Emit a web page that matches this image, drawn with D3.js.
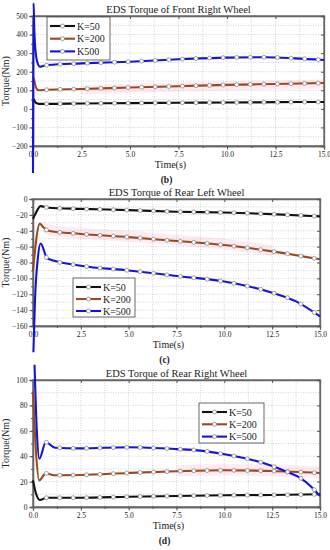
<!DOCTYPE html>
<html>
<head>
<meta charset="utf-8">
<script src="https://cdn.jsdelivr.net/npm/d3@7/dist/d3.min.js"></script>
<style>
body{margin:0;background:#fff}
svg{display:block}
text{font-family:"Liberation Serif","Times New Roman",serif;fill:#222}
</style>
</head>
<body>
<script>
// ---- data ----
var timeTicks = [0, 2.5, 5, 7.5, 10, 12.5, 15];
var seriesNames = ["K=50", "K=200", "K500"];
var seriesNamesRear = ["K=50", "K=200", "K=500"];

// (b) front right wheel
var frontT50  = [0, 0.05, 0.15, 0.3, 0.75, 2.5, 5, 7.5, 10, 12.5, 15];
var frontK50  = [55, 50, 32, 27, 27, 29, 31, 33, 34, 36, 37];
var frontT200 = [0, 0.05, 0.15, 0.3, 0.75, 2.5, 5, 7.5, 10, 12.5, 15];
var frontK200 = [170, 160, 115, 100, 103, 107, 115, 122, 129, 134, 139];
var frontT500 = [0, 0.03, 0.07, 0.2, 0.36, 0.55, 0.77, 2.5, 5, 7.5, 10, 12, 13.5, 15];
var frontK500 = [-345, 570, 415, 260, 227, 232, 236, 245, 254, 267, 276, 278, 272, 263];
var frontTicks = [-200, -100, 0, 100, 200, 300, 400, 500];

// (c) rear left wheel
var rearLT50  = [0, 0.1, 0.4, 0.8, 2.5, 5, 7.5, 10, 12.5, 15];
var rearLK50  = [-25, -20, -9, -11, -12.5, -14, -16, -17, -19, -22];
var rearLT200 = [0, 0.36, 0.55, 0.8, 2.5, 5, 7.5, 10, 12.5, 15];
var rearLK200 = [-90, -31, -36, -40, -44, -48, -53, -58, -66, -76];
var rearLT500 = [0.02, 0.1, 0.25, 0.4, 0.75, 2.5, 5, 7.5, 10, 11.25, 12.5, 13.75, 15];
var rearLK500 = [-193, -130, -75, -56, -75, -84, -90, -97, -104, -110, -118, -129, -148];
var rearLTicks = [-160, -140, -120, -100, -80, -60, -40, -20, 0];

// (d) rear right wheel
var rearRT50  = [0, 0.15, 0.36, 0.7, 2.5, 5, 7.5, 10, 12.5, 15];
var rearRK50  = [21, 11, 5.5, 7.3, 7.3, 8.1, 8.7, 9.2, 9.5, 10];
var rearRT200 = [0, 0.15, 0.32, 0.67, 1.1, 2.5, 5, 7.5, 10, 12.5, 15];
var rearRK200 = [91, 45, 21, 26.5, 25, 25.2, 26.8, 28.1, 28.9, 28.3, 26.8];
var rearRT500 = [0.08, 0.2, 0.33, 0.67, 1.15, 2.5, 5, 7.5, 8.75, 10, 11.25, 12.5, 13.25, 14, 14.5, 15];
var rearRK500 = [112, 60, 38, 51, 46.7, 46.2, 47, 45.6, 44.4, 41.5, 37.8, 32.3, 27.8, 22.6, 16.6, 8.7];
var rearRTicks = [0, 20, 40, 60, 80, 100];

var colors = ["#111111", "#9a4a1c", "#1414d8"];

function zip(t, v) { return t.map(function(d, i) { return {t: d, v: v[i]}; }); }

var svg = d3.select("body").append("svg").attr("width", 330).attr("height", 550);

function panel(cfg) {
  var g = svg.append("g");
  var x = d3.scaleLinear().domain([0, 15]).range([cfg.left, cfg.right]);
  var y = d3.scaleLinear().domain([cfg.ticks[0], cfg.ticks[cfg.ticks.length - 1]]).range([cfg.bottom, cfg.top]);
  var step = cfg.ticks[1] - cfg.ticks[0];
  var yMinor = d3.range(cfg.ticks[0], cfg.ticks[cfg.ticks.length - 1] + 0.01, step / 2);
  var xMinor = d3.range(0, 15.01, 1.25);

  // grid
  g.append("g").selectAll("line").data(xMinor).enter().append("line")
    .attr("x1", function(d) { return x(d); }).attr("x2", function(d) { return x(d); })
    .attr("y1", cfg.top).attr("y2", cfg.bottom)
    .attr("stroke", "#c8c8c8").attr("stroke-width", 0.8).attr("stroke-dasharray", "1,1.5");
  g.append("g").selectAll("line").data(yMinor).enter().append("line")
    .attr("x1", cfg.left).attr("x2", cfg.right)
    .attr("y1", function(d) { return y(d); }).attr("y2", function(d) { return y(d); })
    .attr("stroke", "#c8c8c8").attr("stroke-width", 0.8).attr("stroke-dasharray", "1,1.5");

  // pinkish smear around the K=200 curve (present in the scan)
  var band = zip(cfg.series[1].t, cfg.series[1].v).filter(function(d) { return d.t >= cfg.band[0] && d.t <= cfg.band[1]; });
  g.append("path").datum(band)
    .attr("fill", "#ff9fc0").attr("opacity", 0.2)
    .attr("d", d3.area().curve(d3.curveMonotoneX)
      .x(function(d) { return x(d.t); })
      .y0(function(d) { return y(d.v - cfg.band[2]); })
      .y1(function(d) { return y(d.v + cfg.band[3]); }));

  // frame and axes
  g.append("rect").attr("x", cfg.left).attr("y", cfg.top)
    .attr("width", cfg.right - cfg.left).attr("height", cfg.bottom - cfg.top)
    .attr("fill", "none").attr("stroke", "#666").attr("stroke-width", 1.3);

  g.append("g").attr("transform", "translate(0," + cfg.bottom + ")")
    .call(d3.axisBottom(x).tickValues(timeTicks).tickFormat(d3.format(".1f")).tickSize(3.5).tickPadding(2));
  g.append("g").attr("transform", "translate(0," + cfg.bottom + ")")
    .call(d3.axisBottom(x).tickValues(xMinor).tickFormat("").tickSize(2));
  g.append("g").attr("transform", "translate(0," + cfg.top + ")")
    .call(d3.axisBottom(x).tickValues(timeTicks).tickFormat("").tickSize(3));
  g.append("g").attr("transform", "translate(" + cfg.left + ",0)")
    .call(d3.axisLeft(y).tickValues(cfg.ticks).tickSize(3.5).tickPadding(2));
  g.append("g").attr("transform", "translate(" + cfg.left + ",0)")
    .call(d3.axisLeft(y).tickValues(yMinor).tickFormat("").tickSize(2));
  g.append("g").attr("transform", "translate(" + cfg.right + ",0)")
    .call(d3.axisLeft(y).tickValues(cfg.ticks).tickFormat("").tickSize(3));
  g.selectAll(".domain").attr("stroke", "#666").attr("stroke-width", 1.3);
  g.selectAll(".tick line").attr("stroke", "#555");
  g.selectAll(".tick text").attr("font-family", "Liberation Serif").attr("font-size", 7.5).attr("fill", "#333");

  // lines
  var line = d3.line().curve(d3.curveMonotoneX)
    .x(function(d) { return x(d.t); }).y(function(d) { return y(d.v); });
  cfg.series.forEach(function(s, i) {
    var p = g.append("path").datum(zip(s.t, s.v))
      .attr("fill", "none").attr("stroke", colors[i]).attr("stroke-width", 2.1)
      .attr("d", line);
    // markers every 0.7 s, located on the drawn curve
    var node = p.node(), len = node.getTotalLength();
    var marks = d3.range(1, 22).map(function(k) { return k * 0.7; });
    marks.forEach(function(mt) {
      var tx = x(mt), lo = 0, hi = len;
      for (var n = 0; n < 30; n++) {
        var mid = (lo + hi) / 2;
        if (node.getPointAtLength(mid).x < tx) lo = mid; else hi = mid;
      }
      var pt = node.getPointAtLength(lo);
      g.append("circle").attr("cx", pt.x).attr("cy", pt.y).attr("r", 2)
        .attr("fill", "#fff").attr("stroke", "#8a8a8a").attr("stroke-width", 0.8);
    });
  });

  // labels
  g.append("text").attr("x", (cfg.left + cfg.right) / 2).attr("y", cfg.top - 3)
    .attr("text-anchor", "middle").attr("font-size", 10.5).text(cfg.title);
  g.append("text").attr("x", (cfg.left + cfg.right) / 2 - 8).attr("y", cfg.bottom + 22)
    .attr("text-anchor", "middle").attr("font-size", 10).text("Time(s)");
  g.append("text").attr("transform", "translate(9," + (cfg.top + cfg.bottom) / 2 + ") rotate(-90)")
    .attr("text-anchor", "middle").attr("font-size", 10).text("Torque(Nm)");
  g.append("text").attr("x", (cfg.left + cfg.right) / 2 - 12).attr("y", cfg.bottom + 37)
    .attr("text-anchor", "middle").attr("font-size", 9.5).attr("font-weight", "bold").text(cfg.tag);

  // legend
  var L = cfg.legend;
  g.append("rect").attr("x", L.x).attr("y", L.y).attr("width", L.w).attr("height", L.h)
    .attr("fill", "#fff").attr("stroke", "#444").attr("stroke-width", 0.8);
  cfg.names.forEach(function(nm, i) {
    var yy = L.y + 9 + i * L.dy;
    g.append("line").attr("x1", L.x + 3).attr("x2", L.x + 28).attr("y1", yy).attr("y2", yy)
      .attr("stroke", colors[i]).attr("stroke-width", 2.1);
    g.append("circle").attr("cx", L.x + 15.5).attr("cy", yy).attr("r", 2)
      .attr("fill", "#fff").attr("stroke", "#8a8a8a").attr("stroke-width", 0.8);
    g.append("text").attr("x", L.x + 30).attr("y", yy + 3.5).attr("font-size", 10).text(nm);
  });
}

panel({
  title: "EDS Torque of Front Right Wheel", tag: "(b)",
  left: 33, right: 324, top: 16, bottom: 146, ticks: frontTicks,
  series: [{t: frontT50, v: frontK50}, {t: frontT200, v: frontK200}, {t: frontT500, v: frontK500}],
  names: seriesNames, band: [1.4, 15, 30, 20],
  legend: {x: 47, y: 17, w: 63, h: 43, dy: 12.7}
});
panel({
  title: "EDS Torque of Rear Left Wheel", tag: "(c)",
  left: 33, right: 320, top: 199, bottom: 326, ticks: rearLTicks,
  series: [{t: rearLT50, v: rearLK50}, {t: rearLT200, v: rearLK200}, {t: rearLT500, v: rearLK500}],
  names: seriesNamesRear, band: [0.5, 14.5, 6, 8],
  legend: {x: 73, y: 278, w: 62, h: 39, dy: 12}
});
panel({
  title: "EDS Torque of Rear Right Wheel", tag: "(d)",
  left: 33, right: 320, top: 380, bottom: 507, ticks: rearRTicks,
  series: [{t: rearRT50, v: rearRK50}, {t: rearRT200, v: rearRK200}, {t: rearRT500, v: rearRK500}],
  names: seriesNamesRear, band: [7, 15, 4, 5],
  legend: {x: 199, y: 403, w: 65, h: 40, dy: 12.3}
});
</script>
</body>
</html>
